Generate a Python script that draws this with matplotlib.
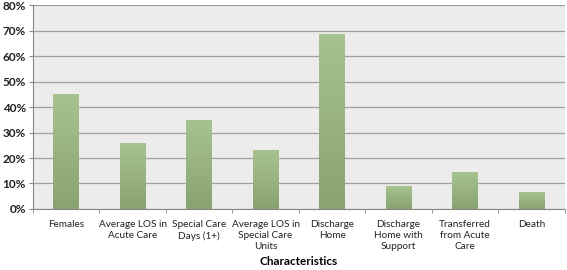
import numpy as np
import matplotlib.pyplot as plt
from matplotlib.colors import LinearSegmentedColormap

plt.rcParams['font.family'] = ['Lato', 'DejaVu Sans']

categories = ["Females", "Average LOS in\nAcute Care", "Special Care\nDays (1+)",
              "Average LOS in\nSpecial Care\nUnits", "Discharge\nHome",
              "Discharge\nHome with\nSupport", "Transferred\nfrom Acute\nCare", "Death"]
values = [45, 25.6, 34.8, 22.8, 68.3, 8.8, 14.2, 6.3]
yticks = [0, 10, 20, 30, 40, 50, 60, 70, 80]

fig = plt.figure(figsize=(5.67, 2.7), dpi=100)
ax = fig.add_axes([0.058, 0.226, 0.938, 0.755])
ax.set_facecolor("#ececec")

cmap = LinearSegmentedColormap.from_list("g", ["#89a370", "#a7c38d"])
grad = np.linspace(0, 1, 100).reshape(-1, 1)
w = 0.39
x = np.arange(len(categories))
for xi, v in zip(x, values):
    ax.imshow(grad, extent=(xi - w/2, xi + w/2, 0, v), origin="lower",
              cmap=cmap, aspect="auto", zorder=3)

ax.set_xlim(-0.5, len(categories) - 0.5)
ax.set_ylim(0, 80)
ax.set_yticks(yticks)
ax.set_yticklabels([f"{t}%" for t in yticks], fontsize=8.5, fontweight="bold", color="#222222")
ax.yaxis.grid(True, color="#a0a0a0", linewidth=0.9, zorder=1)
ax.set_axisbelow(True)

ax.set_xticks(x)
ax.set_xticklabels(categories, fontsize=7.2, color="#222222", linespacing=1.25)
ax.set_xticks(np.arange(len(categories) + 1) - 0.5, minor=True)
ax.tick_params(axis="x", which="major", length=0, pad=8)
ax.tick_params(axis="x", which="minor", length=3, color="#888888", direction="out")
ax.tick_params(axis="y", length=3, color="#888888", pad=2)
ax.set_xlabel("Characteristics", fontsize=8.5, fontweight="bold", labelpad=4)

for s in ["top", "right"]:
    ax.spines[s].set_visible(False)
ax.spines["left"].set_color("#888888")
ax.spines["bottom"].set_color("#888888")

fig.savefig("out.png", dpi=100)
